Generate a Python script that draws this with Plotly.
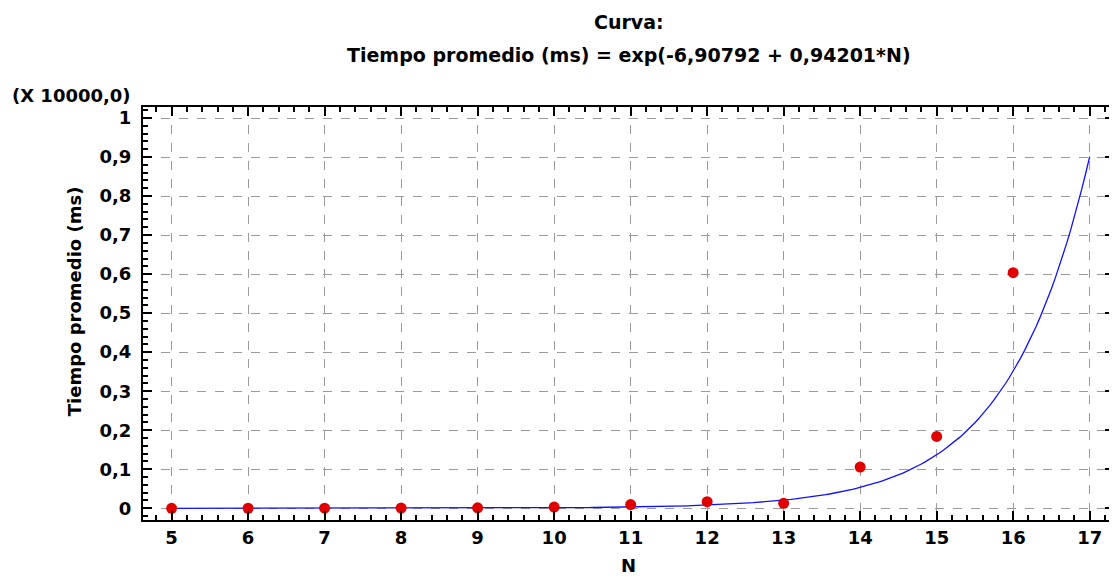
import numpy as np
import plotly.graph_objects as go

# Observed data (average time in ms) vs N
N_vals = [5, 6, 7, 8, 9, 10, 11, 12, 13, 14, 15, 16]
tiempo_ms = [0.5, 1, 2, 5, 12, 30, 95, 170, 128, 1057, 1840, 6036]

# Fitted model coefficients (from chart title)
B0 = -6.90792
B1 = 0.94201
SCALE = 10000.0

x_ticks = [5, 6, 7, 8, 9, 10, 11, 12, 13, 14, 15, 16, 17]
y_ticks = [0, 0.1, 0.2, 0.3, 0.4, 0.5, 0.6, 0.7, 0.8, 0.9, 1]

n_fit = np.linspace(5, 17, 241)
y_fit = np.exp(B0 + B1 * n_fit) / SCALE

FONT = "DejaVu Sans"
TXT = dict(family=FONT, size=18, color="black")

fig = go.Figure()
fig.add_trace(go.Scatter(
    x=n_fit, y=y_fit, mode="lines",
    line=dict(color="#1010ff", width=1.3),
    hoverinfo="skip", showlegend=False))
fig.add_trace(go.Scatter(
    x=N_vals, y=[v / SCALE for v in tiempo_ms], mode="markers",
    marker=dict(color="#e00000", size=11, symbol="circle"),
    showlegend=False))

axis_common = dict(
    showline=True, linecolor="black", linewidth=2, mirror="ticks",
    ticks="inside", tickcolor="black", tickwidth=1.5,
    showgrid=True, gridcolor="#9a9a9a", griddash="dash", gridwidth=1,
    zeroline=False,
    tickfont=dict(family=FONT, size=18, color="black", weight="bold"),
)

fig.update_xaxes(
    **axis_common,
    range=[4.626, 17.318], tickvals=x_ticks, ticklen=9, ticklabelstandoff=0,
    minor=dict(dtick=0.2, tick0=5, ticks="inside", ticklen=5, tickcolor="black", showgrid=False),
)
fig.update_yaxes(
    **axis_common,
    range=[-0.030, 1.0282], tickvals=y_ticks, ticklen=9, ticklabelstandoff=6,
    minor=dict(dtick=0.02, tick0=0, ticks="inside", ticklen=5, tickcolor="black", showgrid=False),
)

fig.update_layout(
    width=1109, height=569,
    margin=dict(l=135, r=1, t=99, b=57),
    paper_bgcolor="white", plot_bgcolor="white",
    separators=",.",
    annotations=[
        dict(text="<b>Curva:</b>", xref="paper", yref="paper", x=0.5, y=1.2058,
             xanchor="center", yanchor="middle", showarrow=False,
             font=dict(family=FONT, size=19, color="black")),
        dict(text="<b>Tiempo promedio (ms) = exp(-6,90792 + 0,94201*N)</b>",
             xref="paper", yref="paper", x=0.5, y=1.1259,
             xanchor="center", yanchor="middle", showarrow=False,
             font=dict(family=FONT, size=19, color="black")),
        dict(text="<b>(X 10000,0)</b>", xref="paper", yref="paper",
             x=-0.1367, y=1.029, xanchor="left", yanchor="middle", showarrow=False,
             font=TXT),
        dict(text="<b>Tiempo promedio (ms)</b>", xref="paper", yref="paper",
             x=-0.0709, y=0.530, xanchor="center", yanchor="middle", showarrow=False,
             textangle=-90, font=TXT),
        dict(text="<b>N</b>", xref="paper", yref="paper",
             x=0.5, y=-0.109, xanchor="center", yanchor="middle", showarrow=False,
             font=TXT),
    ],
)

fig.write_html("out.html")
